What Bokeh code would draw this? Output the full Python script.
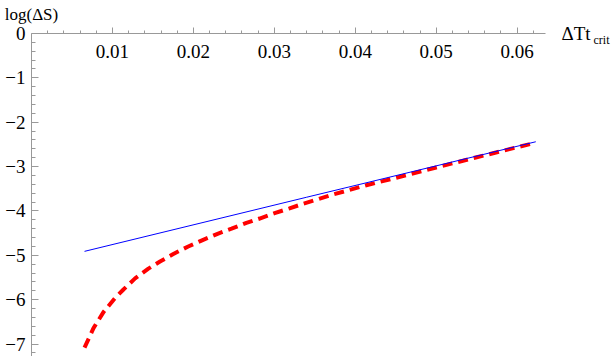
from bokeh.plotting import figure
from bokeh.models import FixedTicker, LinearAxis, Range1d
from bokeh.embed import file_html
from bokeh.resources import INLINE

# ---- data ----
blue_x = [0.00655, 0.0340, 0.0623]
blue_y = [-4.91, -3.69, -2.44]

red_x = [0.00655, 0.00766, 0.00889, 0.01033, 0.01136, 0.01280, 0.01444, 0.01588,
         0.01752, 0.01936, 0.02121, 0.02306, 0.02471, 0.02655, 0.02819, 0.03004,
         0.03188, 0.03352, 0.03496, 0.03722, 0.04137, 0.04507, 0.0500, 0.0550, 0.0623]
red_y = [-7.08, -6.64, -6.28, -5.96, -5.77, -5.52, -5.30, -5.14,
         -4.97, -4.80, -4.65, -4.51, -4.40, -4.27, -4.17, -4.05,
         -3.94, -3.84, -3.76, -3.63, -3.42, -3.25, -3.02, -2.79, -2.46]

x_ticks = [0.01, 0.02, 0.03, 0.04, 0.05, 0.06]
x_tick_labels = ["0.01", "0.02", "0.03", "0.04", "0.05", "0.06"]
y_ticks = [0, -1, -2, -3, -4, -5, -6, -7]
y_tick_labels = ["0", "\u22121", "\u22122", "\u22123", "\u22124", "\u22125", "\u22126", "\u22127"]

x_label = "\u0394Tt"
x_label_sub = "crit"
y_label = "log(\u0394S)"

FONT = "Liberation Serif"
AXC = "#999999"

x_minor = [round(0.002 * i, 4) for i in range(1, 32) if i % 5 != 0]
y_minor = [round(-0.2 * i, 2) for i in range(1, 37) if i % 5 != 0]

p = figure(width=612, height=356, output_backend="svg", toolbar_location=None,
           x_axis_location="above", title=None,
           x_range=Range1d(0, 0.0635), y_range=Range1d(-7.28, 0),
           min_border_left=31, min_border_right=66, min_border_top=33, min_border_bottom=0)
p.outline_line_color = None
p.xgrid.visible = False
p.ygrid.visible = False
p.background_fill_color = "white"
p.border_fill_color = "white"

# x axis (at y = 0, top of the frame); its numbers sit below the line
xa = p.xaxis[0]
xa.ticker = FixedTicker(ticks=x_ticks, minor_ticks=x_minor)
xa.major_label_overrides = dict(zip(x_ticks, x_tick_labels))
xa.axis_line_color = AXC
xa.major_tick_line_color = AXC
xa.minor_tick_line_color = AXC
xa.major_tick_out = 6
xa.major_tick_in = 0
xa.minor_tick_out = 3
xa.minor_tick_in = 0
xa.major_label_text_font = FONT
xa.major_label_text_font_size = "19px"
xa.major_label_text_color = "black"
xa.major_label_standoff = -30

# y axis (at x = 0, left of the frame)
ya = p.yaxis[0]
ya.ticker = FixedTicker(ticks=y_ticks, minor_ticks=y_minor)
ya.major_label_overrides = dict(zip(y_ticks, y_tick_labels))
ya.axis_line_color = AXC
ya.major_tick_line_color = AXC
ya.minor_tick_line_color = AXC
ya.major_tick_out = 0
ya.major_tick_in = 7
ya.minor_tick_out = 0
ya.minor_tick_in = 4
ya.major_label_text_font = FONT
ya.major_label_text_font_size = "19px"
ya.major_label_text_color = "black"
ya.major_label_standoff = 6

p.line(red_x, red_y, line_color="#ff0000", line_width=4, line_dash="10 6")
p.line(blue_x, blue_y, line_color="#0000ff", line_width=1)


def label_axis(tick, text, size, standoff):
    ax = LinearAxis(ticker=FixedTicker(ticks=[tick]),
                    major_label_overrides={tick: text})
    ax.axis_line_color = None
    ax.major_tick_line_color = None
    ax.minor_tick_line_color = None
    ax.major_tick_out = 0
    ax.major_tick_in = 0
    ax.minor_tick_out = 0
    ax.minor_tick_in = 0
    ax.major_label_standoff = standoff
    ax.major_label_text_font = FONT
    ax.major_label_text_font_size = size
    ax.major_label_text_color = "black"
    return ax


# axis names: y-axis name above the y axis, x-axis name after the end of the x axis
p.add_layout(label_axis(0, y_label, "17px", 10), "above")
p.add_layout(label_axis(0, x_label, "19px", 16), "right")
p.add_layout(label_axis(-0.15, x_label_sub, "12px", 0), "right")

open("out.html", "w").write(file_html(p, INLINE))
